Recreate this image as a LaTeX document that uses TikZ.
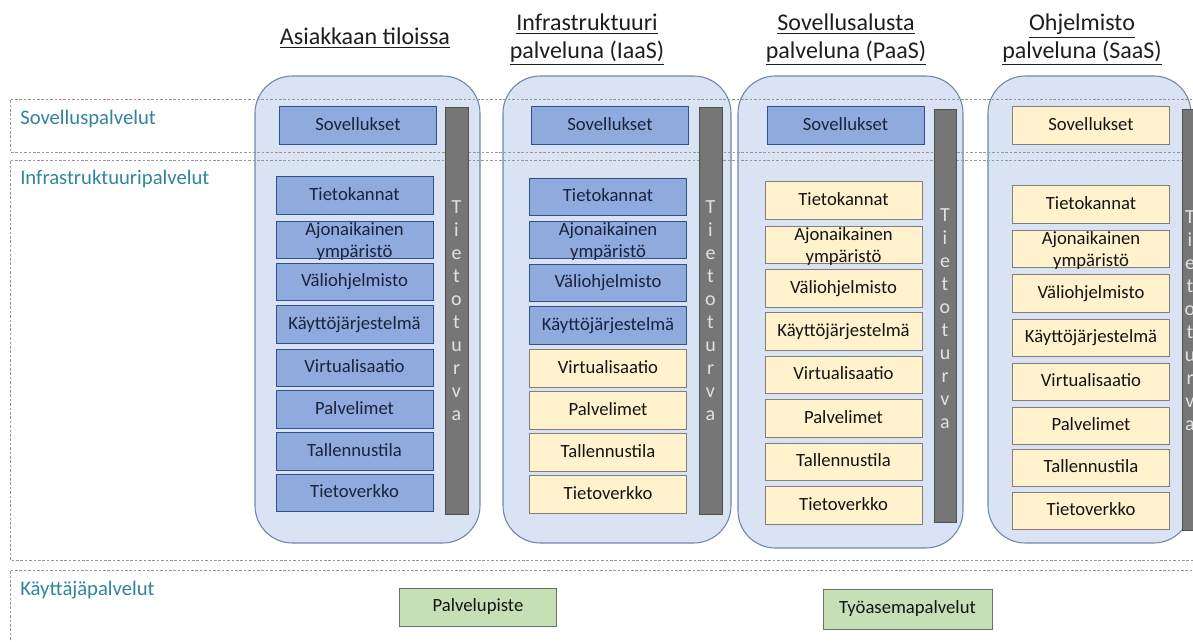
\documentclass[tikz,border=0pt]{standalone}
\usepackage{fontspec}
\setmainfont{Carlito}
\definecolor{colfill}{RGB}{218,227,243}
\definecolor{colline}{RGB}{112,134,170}
\definecolor{bluefill}{RGB}{143,170,220}
\definecolor{blueline}{RGB}{47,82,143}
\definecolor{yelfill}{RGB}{255,242,204}
\definecolor{yelline}{RGB}{127,127,127}
\definecolor{barfill}{RGB}{118,118,118}
\definecolor{barline}{RGB}{80,80,80}
\definecolor{bartxt}{RGB}{225,225,225}
\definecolor{greenfill}{RGB}{197,224,180}
\definecolor{greenline}{RGB}{110,110,110}
\definecolor{lblcol}{RGB}{49,132,155}
\definecolor{hdrcol}{RGB}{30,30,30}
\definecolor{navytext}{RGB}{25,35,60}
\definecolor{blacktext}{RGB}{20,20,20}
\definecolor{bandline}{RGB}{150,150,150}
\begin{document}
\begin{tikzpicture}[x=0.75pt,y=-0.75pt,
  band/.style={draw=bandline, dash pattern=on 2pt off 1.3pt, line width=0.5pt},
  colbg/.style={fill=colfill, draw=colline, line width=0.8pt, rounded corners=28pt},
  bx/.style={minimum width=117.75pt, minimum height=28pt, inner sep=0pt, line width=0.7pt,
    font=\fontsize{14}{16.5}\selectfont, text height=9.8pt, text depth=3pt},
  bluebox/.style={bx, fill=bluefill, draw=blueline, text=navytext},
  yelbox/.style={bx, fill=yelfill, draw=yelline, text=blacktext},
  greenbox/.style={bx, fill=greenfill, draw=greenline, text=blacktext, minimum height=28.5pt},
  twoline/.style={font=\fontsize{14}{16.5}\selectfont, align=center, inner sep=0pt},
  bar/.style={fill=barfill, draw=barline, line width=0.7pt, anchor=north west, inner sep=0pt},
  bartext/.style={font=\fontsize{15}{17.25}\selectfont, text=bartxt, align=center, inner sep=0pt},
  lbl/.style={font=\fontsize{15.5}{18}\selectfont, text=lblcol, anchor=base west, inner sep=0pt},
  hdr/.style={font=\fontsize{18}{21}\selectfont, text=hdrcol, inner sep=0pt, align=center}
]
\useasboundingbox (0,0) rectangle (1193,642);
\clip (0,0) rectangle (1193,642);

% columns
\draw[colbg] (255,76) rectangle (480,543);
\draw[colbg] (503,76) rectangle (731,543);
\draw[colbg] (738,76) rectangle (963,548);
\draw[colbg] (988,76) rectangle (1191,543);

% bands
\draw[band] (1210,99) -- (10,99) -- (10,152) -- (1210,152);
\draw[band] (1210,160) -- (10,160) -- (10,560) -- (1210,560);
\draw[band] (1210,570) -- (10,570) -- (10,660);

% band labels
\node[lbl] (lsov) at (20,124) {Sovelluspalvelut};
\node[lbl] (linf) at (20,184) {Infrastruktuuripalvelut};
\node[lbl] (lkay) at (20,595) {Käyttäjäpalvelut};

% headers
\node[hdr, anchor=base] (h1) at (365,45) {\underline{Asiakkaan tiloissa}};
\node[hdr] (h2) at (587,39.4) {\strut\underline{Infrastruktuuri}\\\strut\underline{palveluna (IaaS)}};
\node[hdr] (h3) at (846,39.4) {\strut\underline{Sovellusalusta}\\\strut\underline{palveluna (PaaS)}};
\node[hdr] (h4) at (1082,39.4) {\strut\underline{Ohjelmisto}\\\strut\underline{palveluna (SaaS)}};

% column 1
\node[bluebox] (a0) at (358,125.5) {Sovellukset};
\node[bluebox] (a1) at (354.5,195.5) {Tietokannat};
\node[bluebox] (a2) at (354.5,240) {};
\node[twoline, text=navytext] (a2t) at (354.5,241.6) {\strut Ajonaikainen\\ympäristö\strut};
\node[bluebox] (a3) at (354.5,282) {Väliohjelmisto};
\node[bluebox] (a4) at (354.5,324.5) {Käyttöjärjestelmä};
\node[bluebox] (a5) at (354.5,368) {Virtualisaatio};
\node[bluebox] (a6) at (354.5,409.5) {Palvelimet};
\node[bluebox] (a7) at (354.5,451.5) {Tallennustila};
\node[bluebox] (a8) at (354.5,493) {Tietoverkko};
\node[bar, minimum width=17.25pt, minimum height=305.25pt] (abar) at (445,107) {};
\node[bartext] (abart) at (456.5,312.4) {\strut T\\\strut i\\\strut e\\\strut t\\\strut o\\\strut t\\\strut u\\\strut r\\\strut v\\\strut a};

% column 2
\node[bluebox] (b0) at (610,125.5) {Sovellukset};
\node[bluebox] (b1) at (608,197) {Tietokannat};
\node[bluebox] (b2) at (608,240) {};
\node[twoline, text=navytext] (b2t) at (608,241.6) {\strut Ajonaikainen\\ympäristö\strut};
\node[bluebox] (b3) at (608,283) {Väliohjelmisto};
\node[bluebox] (b4) at (608,325.5) {Käyttöjärjestelmä};
\node[yelbox] (b5) at (608,368.5) {Virtualisaatio};
\node[yelbox] (b6) at (608,410.5) {Palvelimet};
\node[yelbox] (b7) at (608,452.5) {Tallennustila};
\node[yelbox] (b8) at (608,494.5) {Tietoverkko};
\node[bar, minimum width=17.25pt, minimum height=305.25pt] (bbar) at (699,107) {};
\node[bartext] (bbart) at (710.5,312.4) {\strut T\\\strut i\\\strut e\\\strut t\\\strut o\\\strut t\\\strut u\\\strut r\\\strut v\\\strut a};

% column 3
\node[bluebox] (c0) at (845.5,125.5) {Sovellukset};
\node[yelbox] (c1) at (843.5,200.5) {Tietokannat};
\node[yelbox] (c2) at (843.5,245) {};
\node[twoline, text=blacktext] (c2t) at (843.5,246.6) {\strut Ajonaikainen\\ympäristö\strut};
\node[yelbox] (c3) at (843.5,288.5) {Väliohjelmisto};
\node[yelbox] (c4) at (843.5,331.5) {Käyttöjärjestelmä};
\node[yelbox] (c5) at (843.5,375) {Virtualisaatio};
\node[yelbox] (c6) at (843.5,418.5) {Palvelimet};
\node[yelbox] (c7) at (843.5,462) {Tallennustila};
\node[yelbox] (c8) at (843.5,505.5) {Tietoverkko};
\node[bar, minimum width=16.5pt, minimum height=309.75pt] (cbar) at (934,109) {};
\node[bartext] (cbart) at (945,320.5) {\strut T\\\strut i\\\strut e\\\strut t\\\strut o\\\strut t\\\strut u\\\strut r\\\strut v\\\strut a};

% column 4
\node[yelbox] (d0) at (1091,125.5) {Sovellukset};
\node[yelbox] (d1) at (1091,204.5) {Tietokannat};
\node[yelbox] (d2) at (1091,249) {};
\node[twoline, text=blacktext] (d2t) at (1091,250.6) {\strut Ajonaikainen\\ympäristö\strut};
\node[yelbox] (d3) at (1091,293.5) {Väliohjelmisto};
\node[yelbox] (d4) at (1091,338) {Käyttöjärjestelmä};
\node[yelbox] (d5) at (1091,382) {Virtualisaatio};
\node[yelbox] (d6) at (1091,426) {Palvelimet};
\node[yelbox] (d7) at (1091,468) {Tallennustila};
\node[yelbox] (d8) at (1091,511) {Tietoverkko};
\node[bar, minimum width=21pt, minimum height=315.75pt] (dbar) at (1182,109) {};
\node[bartext] (dbart) at (1190,322.5) {\strut T\\\strut i\\\strut e\\\strut t\\\strut o\\\strut t\\\strut u\\\strut r\\\strut v\\\strut a};

% user services
\node[greenbox] (g1) at (478,607) {Palvelupiste};
\node[greenbox, minimum width=126.75pt, minimum height=30pt] (g2) at (907.5,609) {Työasemapalvelut};
\end{tikzpicture}
\end{document}
